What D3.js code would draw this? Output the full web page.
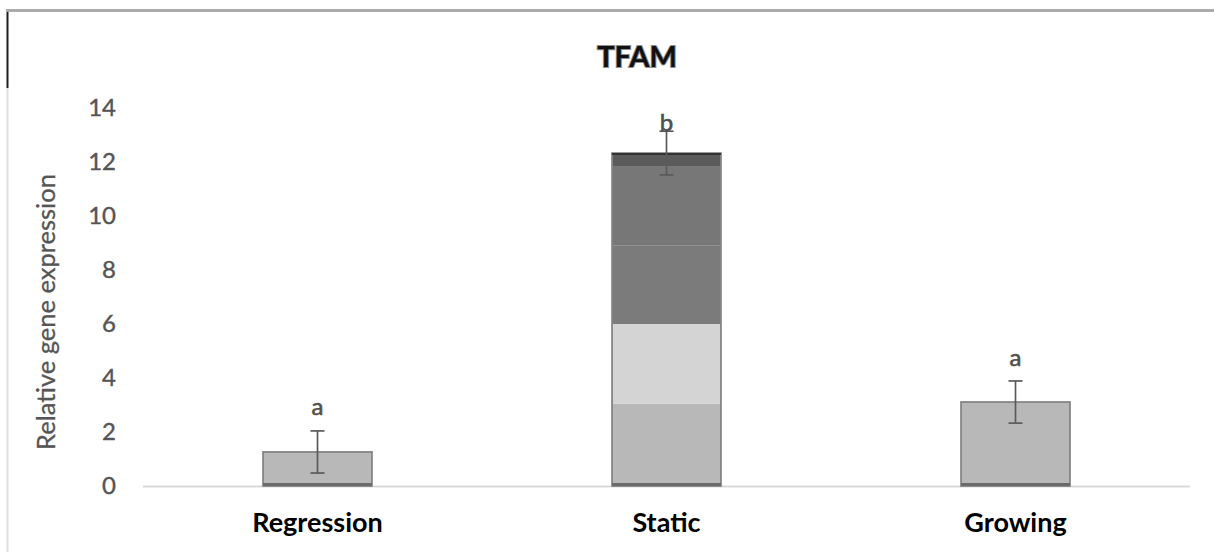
<!DOCTYPE html>
<html>
<head>
<meta charset="utf-8">
<script src="https://cdn.jsdelivr.net/npm/d3@7"></script>
<style>
  html, body { margin: 0; padding: 0; background: #ffffff; }
  svg { display: block; }
</style>
</head>
<body>
<svg id="chart" width="1214" height="552"></svg>
<script>
// TFAM relative expression per group
const chartTitle = "TFAM";
const yAxisTitle = "Relative gene expression";
const categories = ["Regression", "Static", "Growing"];
// bar stacks (bottom to top); single-layer groups have one value
const regressionLayers = [1.26];
const staticLayers = [3.05, 2.95, 2.9, 2.95, 0.48];
const growingLayers = [3.11];
const errors = [0.78, 0.81, 0.78];
const sigLetters = ["a", "b", "a"];
const sigLetterLevels = [3.0, 13.5, 4.8];
const yTicks = [0, 2, 4, 6, 8, 10, 12, 14];

const layers = [regressionLayers, staticLayers, growingLayers];
const means = layers.map(l => d3.sum(l));

const singleFill = "#b8b8b8";
const staticFills = ["#b8b8b8", "#d4d4d4", "#7b7b7b", "#777777", "#5b5b5b"];

const svg = d3.select("#chart");
const W = 1214, H = 552;
const plot = { left: 143, right: 1190, top: 108, bottom: 486 };
const fontFamily = "Lato, 'Open Sans', sans-serif";

svg.append("rect").attr("width", W).attr("height", H).attr("fill", "#ffffff");

// frame edges
svg.append("line").attr("x1", 6).attr("x2", W).attr("y1", 10.5).attr("y2", 10.5)
  .attr("stroke", "#ababab").attr("stroke-width", 3);
svg.append("line").attr("x1", 7.5).attr("x2", 7.5).attr("y1", 12).attr("y2", 88)
  .attr("stroke", "#1e1e1e").attr("stroke-width", 2);
svg.append("line").attr("x1", 7.5).attr("x2", 7.5).attr("y1", 88).attr("y2", H)
  .attr("stroke", "#dedede").attr("stroke-width", 2);

const x = d3.scaleBand().domain(categories).range([plot.left, plot.right]).padding(0);
const y = d3.scaleLinear().domain([0, 14]).range([plot.bottom, plot.top]);
const barW = x.bandwidth() * 0.312;

// y axis: labels only
const yAxis = d3.axisLeft(y).tickValues(yTicks).tickSize(0).tickPadding(0);
const yg = svg.append("g").attr("transform", "translate(116,0)").call(yAxis);
yg.select(".domain").remove();
yg.selectAll("text")
  .attr("fill", "#555555")
  .attr("stroke", "#555555")
  .attr("stroke-width", 0.4)
  .style("font-family", fontFamily)
  .style("font-size", "24px");

// baseline
svg.append("line").attr("x1", plot.left).attr("x2", plot.right)
  .attr("y1", y(0) + 0.5).attr("y2", y(0) + 0.5)
  .attr("stroke", "#d9d9d9").attr("stroke-width", 2);

// bars
categories.forEach((cat, i) => {
  const cx = x(cat) + x.bandwidth() / 2;
  const g = svg.append("g");
  const stacked = d3.cumsum(layers[i]);
  layers[i].forEach((v, j) => {
    const y0 = j === 0 ? 0 : stacked[j - 1];
    const y1 = stacked[j];
    const fill = layers[i].length > 1 ? staticFills[j] : singleFill;
    g.append("rect")
      .attr("x", cx - barW / 2)
      .attr("y", y(y1))
      .attr("width", barW)
      .attr("height", y(y0) - y(y1))
      .attr("fill", fill);
  });
  // outline
  g.append("rect")
    .attr("x", cx - barW / 2)
    .attr("y", y(means[i]))
    .attr("width", barW)
    .attr("height", y(0) - y(means[i]))
    .attr("fill", "none")
    .attr("stroke", "#858585")
    .attr("stroke-width", 1.8);
  // heavier bottom edge
  g.append("line")
    .attr("x1", cx - barW / 2).attr("x2", cx + barW / 2)
    .attr("y1", y(0) - 1.5).attr("y2", y(0) - 1.5)
    .attr("stroke", "#6a6a6a").attr("stroke-width", 3);
  if (layers[i].length > 1) {
    g.append("line")
      .attr("x1", cx - barW / 2).attr("x2", cx + barW / 2)
      .attr("y1", y(means[i]) + 1).attr("y2", y(means[i]) + 1)
      .attr("stroke", "#333333").attr("stroke-width", 2);
  }

  // error bar
  const hi = y(means[i] + errors[i]);
  const lo = y(means[i] - errors[i]);
  const eb = svg.append("g").attr("stroke", "#5a5a5a").attr("stroke-width", 1.7);
  eb.append("line").attr("x1", cx).attr("x2", cx).attr("y1", hi).attr("y2", lo);
  eb.append("line").attr("x1", cx - 7).attr("x2", cx + 7).attr("y1", hi).attr("y2", hi);
  eb.append("line").attr("x1", cx - 7).attr("x2", cx + 7).attr("y1", lo).attr("y2", lo);

  // significance letter
  svg.append("text")
    .attr("x", cx)
    .attr("y", y(sigLetterLevels[i]))
    .attr("text-anchor", "middle")
    .attr("dominant-baseline", "central")
    .attr("fill", "#505050")
    .attr("stroke", "#505050")
    .attr("stroke-width", 0.6)
    .style("font-family", fontFamily)
    .style("font-size", "24px")
    .text(sigLetters[i]);

  // category label
  svg.append("text")
    .attr("x", cx)
    .attr("y", 521)
    .attr("text-anchor", "middle")
    .attr("dominant-baseline", "central")
    .attr("fill", "#000000")
    .style("font-family", fontFamily)
    .style("font-weight", "bold")
    .style("font-size", "27px")
    .text(cat);
});

// chart title
svg.append("text")
  .attr("x", 637)
  .attr("y", 55)
  .attr("text-anchor", "middle")
  .attr("dominant-baseline", "central")
  .attr("fill", "#111111")
  .attr("stroke", "#8f8f8f")
  .attr("stroke-width", 2)
  .attr("paint-order", "stroke")
  .style("font-family", fontFamily)
  .style("font-weight", "bold")
  .style("font-size", "29px")
  .text(chartTitle);

// y axis title
svg.append("text")
  .attr("transform", "translate(45,312) rotate(-90)")
  .attr("text-anchor", "middle")
  .attr("dominant-baseline", "central")
  .attr("fill", "#555555")
  .attr("stroke", "#555555")
  .attr("stroke-width", 0.3)
  .style("font-family", fontFamily)
  .style("font-size", "25.5px")
  .text(yAxisTitle);
</script>
</body>
</html>
